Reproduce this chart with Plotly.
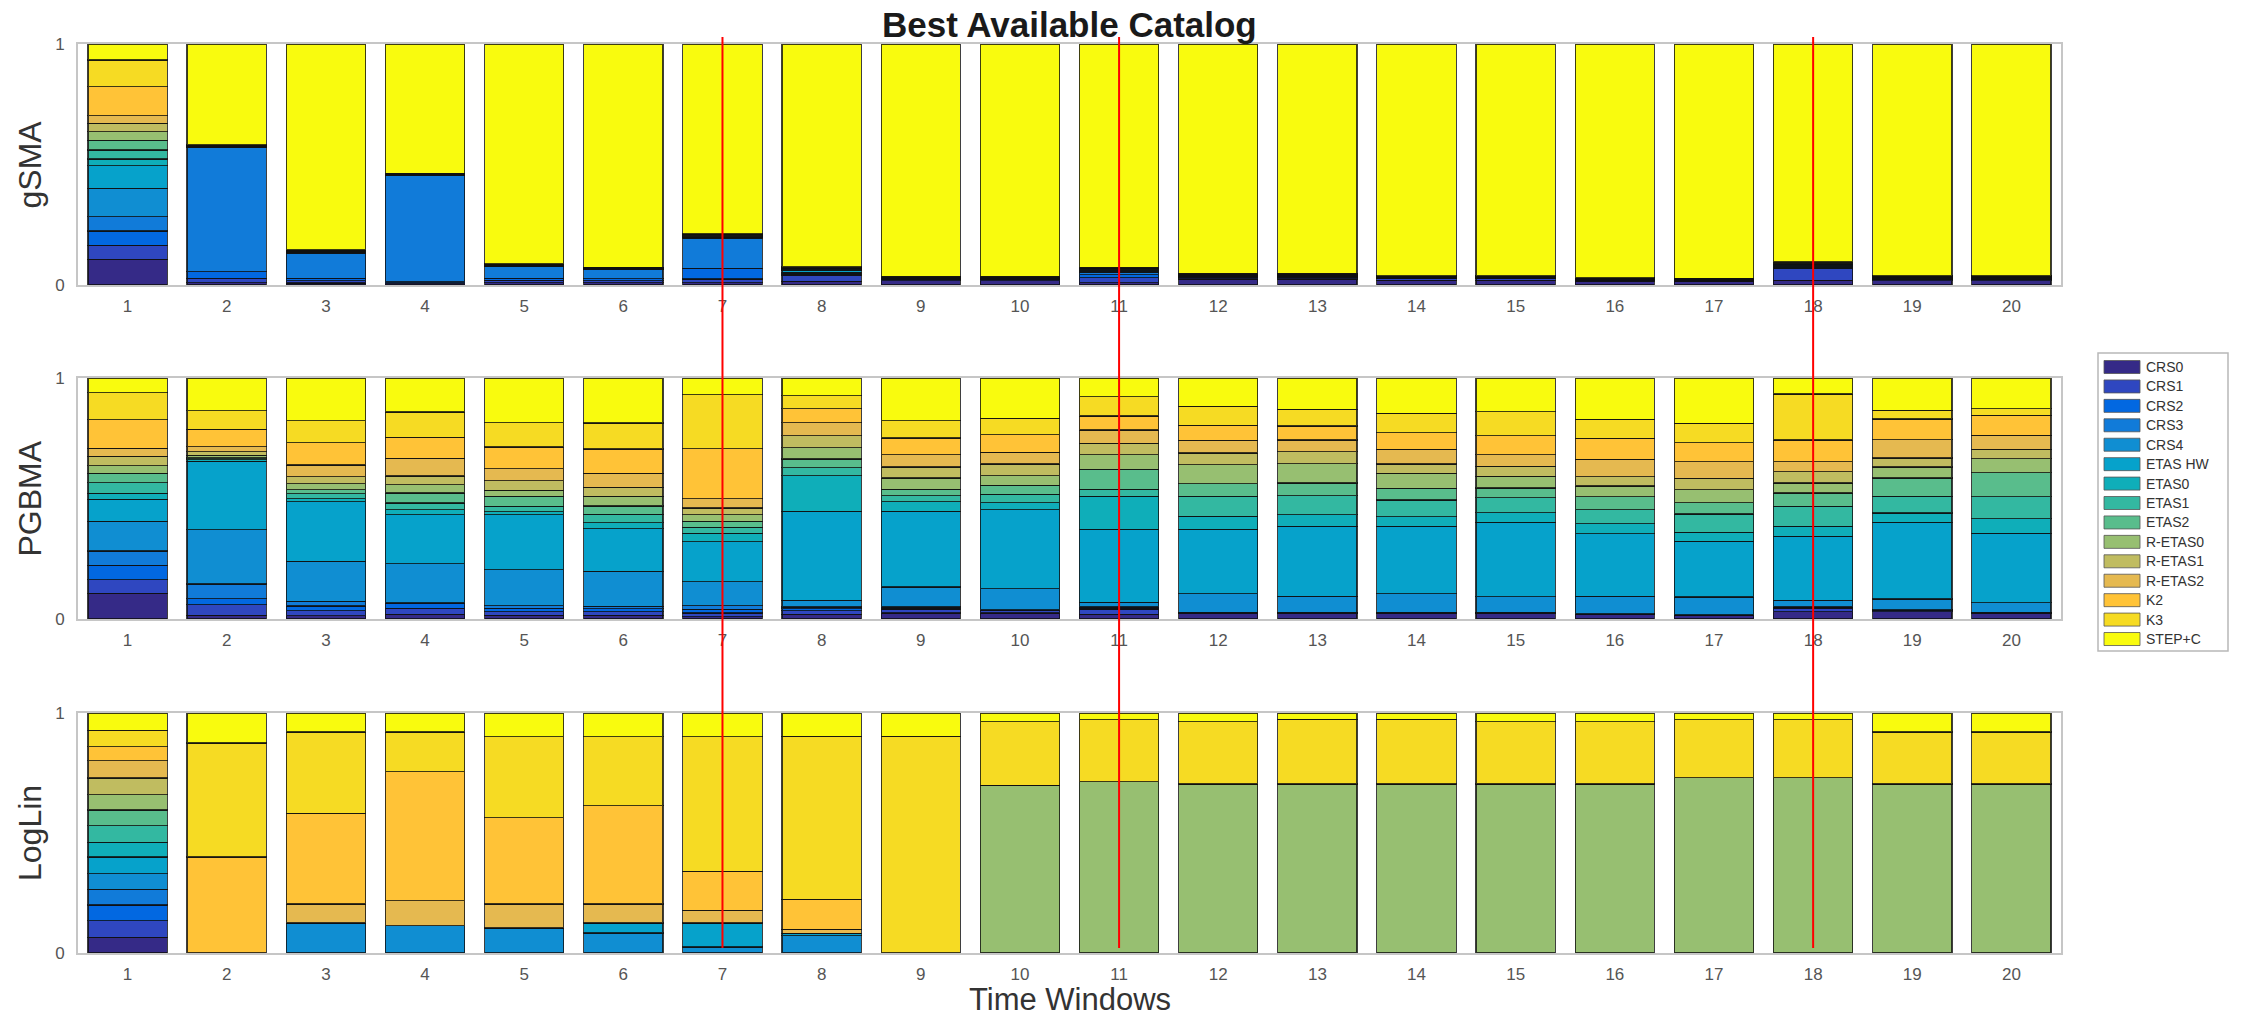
import plotly.graph_objects as go

# Forecast models, stacked bottom to top in every bar
models = ["CRS0", "CRS1", "CRS2", "CRS3", "CRS4", "ETAS HW", "ETAS0", "ETAS1", "ETAS2",
          "R-ETAS0", "R-ETAS1", "R-ETAS2", "K2", "K3", "STEP+C"]
windows = list(range(1, 21))
panel_names = ["gSMA", "PGBMA", "LogLin"]
marked_windows = [7, 11, 18]

# Model weights per time window (one row per window, columns follow `models`)
gsma = [
    [0.107, 0.058, 0.059, 0.059, 0.118, 0.094, 0.028, 0.037, 0.041, 0.035, 0.035, 0.032, 0.120, 0.111, 0.066],
    [0.010, 0.018, 0.027, 0.515, 0.002, 0.001, 0.001, 0.001, 0.001, 0.001, 0.001, 0.001, 0.001, 0.001, 0.419],
    [0.008, 0.010, 0.010, 0.104, 0.0013, 0.0013, 0.0013, 0.0013, 0.0013, 0.0013, 0.0013, 0.0013, 0.0013, 0.0013, 0.8537],
    [0.006, 0.004, 0.004, 0.440, 0.001, 0.001, 0.001, 0.001, 0.001, 0.001, 0.001, 0.001, 0.001, 0.001, 0.535],
    [0.010, 0.010, 0.008, 0.048, 0.0012, 0.0012, 0.0012, 0.0012, 0.0012, 0.0012, 0.0012, 0.0012, 0.0012, 0.0012, 0.9108],
    [0.010, 0.008, 0.008, 0.038, 0.001, 0.001, 0.001, 0.001, 0.001, 0.001, 0.001, 0.001, 0.001, 0.001, 0.925],
    [0.010, 0.015, 0.044, 0.125, 0.0018, 0.0018, 0.0018, 0.0018, 0.0018, 0.0018, 0.0018, 0.0018, 0.0018, 0.0018, 0.7862],
    [0.015, 0.025, 0.004, 0.004, 0.004, 0.008, 0.0018, 0.0018, 0.0018, 0.0018, 0.0018, 0.0018, 0.0018, 0.0018, 0.9238],
    [0.018, 0.006, 0.001, 0.001, 0.001, 0.001, 0.001, 0.001, 0.001, 0.001, 0.001, 0.001, 0.001, 0.001, 0.963],
    [0.018, 0.006, 0.001, 0.001, 0.001, 0.001, 0.001, 0.001, 0.001, 0.001, 0.001, 0.001, 0.001, 0.001, 0.963],
    [0.010, 0.020, 0.012, 0.012, 0.004, 0.0018, 0.0018, 0.0018, 0.0018, 0.0018, 0.0018, 0.0018, 0.0018, 0.0018, 0.9258],
    [0.025, 0.006, 0.0015, 0.0015, 0.0015, 0.0015, 0.0015, 0.0015, 0.0015, 0.0015, 0.0015, 0.0015, 0.0015, 0.0015, 0.9505],
    [0.025, 0.006, 0.0015, 0.0015, 0.0015, 0.0015, 0.0015, 0.0015, 0.0015, 0.0015, 0.0015, 0.0015, 0.0015, 0.0015, 0.9505],
    [0.020, 0.006, 0.001, 0.001, 0.001, 0.001, 0.001, 0.001, 0.001, 0.001, 0.001, 0.001, 0.001, 0.001, 0.961],
    [0.020, 0.006, 0.001, 0.001, 0.001, 0.001, 0.001, 0.001, 0.001, 0.001, 0.001, 0.001, 0.001, 0.001, 0.961],
    [0.015, 0.003, 0.001, 0.001, 0.001, 0.001, 0.001, 0.001, 0.001, 0.001, 0.001, 0.001, 0.001, 0.001, 0.969],
    [0.013, 0.003, 0.001, 0.001, 0.001, 0.001, 0.001, 0.001, 0.001, 0.001, 0.001, 0.001, 0.001, 0.001, 0.971],
    [0.020, 0.050, 0.005, 0.004, 0.0017, 0.0017, 0.0017, 0.0017, 0.0017, 0.0017, 0.0017, 0.0017, 0.0017, 0.0017, 0.9023],
    [0.018, 0.006, 0.0012, 0.0012, 0.0012, 0.0012, 0.0012, 0.0012, 0.0012, 0.0012, 0.0012, 0.0012, 0.0012, 0.0012, 0.9604],
    [0.018, 0.006, 0.0012, 0.0012, 0.0012, 0.0012, 0.0012, 0.0012, 0.0012, 0.0012, 0.0012, 0.0012, 0.0012, 0.0012, 0.9604],
]

pgbma = [
    [0.107, 0.056, 0.060, 0.059, 0.123, 0.091, 0.025, 0.045, 0.039, 0.031, 0.039, 0.033, 0.119, 0.112, 0.061],
    [0.015, 0.045, 0.025, 0.060, 0.225, 0.285, 0.006, 0.004, 0.005, 0.010, 0.015, 0.020, 0.072, 0.078, 0.135],
    [0.014, 0.020, 0.020, 0.020, 0.165, 0.247, 0.014, 0.020, 0.017, 0.025, 0.028, 0.049, 0.093, 0.091, 0.177],
    [0.020, 0.025, 0.020, 0.002, 0.163, 0.202, 0.021, 0.028, 0.042, 0.035, 0.035, 0.073, 0.088, 0.105, 0.141],
    [0.015, 0.015, 0.015, 0.010, 0.149, 0.228, 0.014, 0.021, 0.042, 0.025, 0.040, 0.050, 0.090, 0.100, 0.186],
    [0.015, 0.015, 0.013, 0.010, 0.145, 0.176, 0.025, 0.035, 0.035, 0.040, 0.037, 0.059, 0.100, 0.108, 0.187],
    [0.010, 0.015, 0.015, 0.015, 0.100, 0.166, 0.035, 0.024, 0.025, 0.028, 0.028, 0.039, 0.207, 0.224, 0.069],
    [0.020, 0.015, 0.008, 0.007, 0.028, 0.369, 0.148, 0.032, 0.037, 0.046, 0.051, 0.053, 0.058, 0.055, 0.073],
    [0.025, 0.015, 0.005, 0.005, 0.083, 0.314, 0.040, 0.025, 0.027, 0.046, 0.046, 0.051, 0.069, 0.072, 0.177],
    [0.025, 0.010, 0.002, 0.002, 0.086, 0.329, 0.028, 0.035, 0.037, 0.041, 0.048, 0.048, 0.073, 0.069, 0.167],
    [0.020, 0.020, 0.005, 0.005, 0.019, 0.304, 0.136, 0.030, 0.083, 0.059, 0.048, 0.055, 0.058, 0.080, 0.078],
    [0.022, 0.002, 0.002, 0.002, 0.077, 0.268, 0.053, 0.083, 0.053, 0.079, 0.048, 0.053, 0.061, 0.080, 0.117],
    [0.022, 0.002, 0.002, 0.002, 0.066, 0.290, 0.048, 0.079, 0.053, 0.080, 0.051, 0.048, 0.058, 0.069, 0.130],
    [0.022, 0.002, 0.002, 0.002, 0.077, 0.279, 0.041, 0.069, 0.048, 0.062, 0.039, 0.061, 0.069, 0.080, 0.147],
    [0.022, 0.002, 0.002, 0.002, 0.064, 0.310, 0.039, 0.062, 0.041, 0.048, 0.041, 0.048, 0.079, 0.101, 0.139],
    [0.018, 0.002, 0.001, 0.001, 0.072, 0.260, 0.041, 0.058, 0.055, 0.044, 0.039, 0.072, 0.087, 0.079, 0.171],
    [0.014, 0.002, 0.001, 0.001, 0.073, 0.231, 0.037, 0.077, 0.047, 0.053, 0.048, 0.069, 0.079, 0.080, 0.188],
    [0.030, 0.015, 0.003, 0.002, 0.028, 0.266, 0.041, 0.083, 0.055, 0.041, 0.048, 0.041, 0.090, 0.191, 0.066],
    [0.030, 0.005, 0.002, 0.002, 0.044, 0.318, 0.039, 0.069, 0.076, 0.046, 0.037, 0.076, 0.086, 0.036, 0.134],
    [0.022, 0.002, 0.002, 0.002, 0.039, 0.288, 0.061, 0.091, 0.100, 0.058, 0.039, 0.058, 0.083, 0.028, 0.127],
]

loglin = [
    [0.066, 0.069, 0.065, 0.065, 0.066, 0.069, 0.062, 0.069, 0.065, 0.064, 0.069, 0.072, 0.058, 0.069, 0.072],
    [0, 0, 0, 0, 0, 0, 0, 0, 0, 0, 0, 0, 0.400, 0.475, 0.125],
    [0, 0, 0, 0, 0.125, 0, 0, 0, 0, 0, 0, 0.079, 0.378, 0.339, 0.079],
    [0, 0, 0, 0, 0.114, 0, 0, 0, 0, 0, 0, 0.104, 0.537, 0.166, 0.079],
    [0, 0, 0, 0, 0.104, 0, 0, 0, 0, 0, 0, 0.100, 0.360, 0.337, 0.099],
    [0, 0, 0, 0, 0.083, 0.042, 0, 0, 0, 0, 0, 0.079, 0.409, 0.288, 0.099],
    [0, 0, 0, 0, 0.025, 0.100, 0, 0, 0, 0, 0, 0.053, 0.162, 0.561, 0.099],
    [0, 0, 0, 0, 0.072, 0.010, 0, 0, 0, 0, 0, 0.017, 0.125, 0.679, 0.097],
    [0, 0, 0, 0, 0, 0, 0, 0, 0, 0, 0, 0, 0, 0.903, 0.097],
    [0, 0, 0, 0, 0, 0, 0, 0, 0, 0.699, 0, 0, 0, 0.264, 0.037],
    [0, 0, 0, 0, 0, 0, 0, 0, 0, 0.713, 0, 0, 0, 0.259, 0.028],
    [0, 0, 0, 0, 0, 0, 0, 0, 0, 0.704, 0, 0, 0, 0.259, 0.037],
    [0, 0, 0, 0, 0, 0, 0, 0, 0, 0.704, 0, 0, 0, 0.269, 0.027],
    [0, 0, 0, 0, 0, 0, 0, 0, 0, 0.704, 0, 0, 0, 0.269, 0.027],
    [0, 0, 0, 0, 0, 0, 0, 0, 0, 0.704, 0, 0, 0, 0.259, 0.037],
    [0, 0, 0, 0, 0, 0, 0, 0, 0, 0.704, 0, 0, 0, 0.259, 0.037],
    [0, 0, 0, 0, 0, 0, 0, 0, 0, 0.731, 0, 0, 0, 0.241, 0.028],
    [0, 0, 0, 0, 0, 0, 0, 0, 0, 0.731, 0, 0, 0, 0.241, 0.028],
    [0, 0, 0, 0, 0, 0, 0, 0, 0, 0.704, 0, 0, 0, 0.217, 0.079],
    [0, 0, 0, 0, 0, 0, 0, 0, 0, 0.704, 0, 0, 0, 0.217, 0.079],
]

# 15-step parula palette, one colour per model
palette = ["#352A87", "#2F47C0", "#0268E1", "#117BD9", "#108ED2", "#06A2CB", "#0FAEB9",
           "#33B8A1", "#59BD8C", "#97BF71", "#C0BC60", "#E5B950", "#FFC337", "#F6DB23", "#F9FB0E"]

W, H = 2249, 1018
FONT = "Liberation Sans, Arial, Helvetica, sans-serif"


def fx(px):
    return px / W


def fy(px):
    return 1 - px / H


# vertical pixel extent of each panel (top, bottom)
panel_px = [(44, 285), (378, 619), (713, 953)]
x_left, x_right = 78, 2061

fig = go.Figure()

for p, rows in enumerate([gsma, pgbma, loglin]):
    suffix = "" if p == 0 else str(p + 1)
    for m, name in enumerate(models):
        fig.add_trace(go.Bar(
            x=windows,
            y=[row[m] for row in rows],
            name=name,
            width=0.8,
            marker=dict(color=palette[m], line=dict(color="rgba(15,15,15,0.8)", width=1.2)),
            xaxis="x" + suffix,
            yaxis="y" + suffix,
            showlegend=False,
        ))

axis_line = dict(showline=True, mirror=True, linecolor="#c6c6c6", linewidth=2,
                 showgrid=False, zeroline=False, ticks="", automargin=False)
layout = dict(
    width=W, height=H,
    margin=dict(l=0, r=0, t=0, b=0, pad=0, autoexpand=False),
    paper_bgcolor="white", plot_bgcolor="white",
    barmode="stack", bargap=0.2,
    font=dict(family=FONT, color="#444"),
)
for p, (top, bottom) in enumerate(panel_px):
    suffix = "" if p == 0 else str(p + 1)
    layout["xaxis" + suffix] = dict(
        axis_line, domain=[fx(x_left), fx(x_right)], range=[0.5, 20.5],
        anchor="y" + suffix, tickvals=windows, ticktext=[str(w) for w in windows],
        tickfont=dict(size=17, color="#555"), ticklabelstandoff=5,
    )
    layout["yaxis" + suffix] = dict(
        axis_line, domain=[fy(bottom), fy(top)], range=[0, 1],
        anchor="x" + suffix, tickvals=[0, 1], ticktext=["0", "1"],
        tickfont=dict(size=17, color="#555"), ticklabelstandoff=8,
    )
fig.update_layout(**layout)

centre_x = fx((x_left + x_right) / 2)
annotations = [
    dict(text="<b>Best Available Catalog</b>", x=centre_x, y=fy(24),
         font=dict(size=35, color="#1a1a1a", family=FONT)),
    dict(text="Time Windows", x=centre_x, y=0, yanchor="bottom", borderpad=0,
         font=dict(size=31, color="#333", family=FONT)),
]
for p, (top, bottom) in enumerate(panel_px):
    annotations.append(dict(text=panel_names[p], x=fx(30), y=fy((top + bottom) / 2),
                            textangle=-90, font=dict(size=32, color="#333", family=FONT)))

# legend: boxed column of swatches with model names
shapes = []
leg_left, leg_right, leg_top, leg_bottom = 2098, 2228, 353, 651
shapes.append(dict(type="rect", xref="paper", yref="paper",
                   x0=fx(leg_left), x1=fx(leg_right), y0=fy(leg_bottom), y1=fy(leg_top),
                   line=dict(color="#b8b8b8", width=1.5), fillcolor="white", layer="above"))
for m, name in enumerate(models):
    cy = 367 + m * 19.43
    shapes.append(dict(type="rect", xref="paper", yref="paper",
                       x0=fx(2104), x1=fx(2140), y0=fy(cy + 6.5), y1=fy(cy - 6.5),
                       fillcolor=palette[m], line=dict(color="#555", width=0.8), layer="above"))
    annotations.append(dict(text=name, x=fx(2144), y=fy(cy), xanchor="left",
                            font=dict(size=14, color="#333", family=FONT)))

for w in marked_windows:
    shapes.append(dict(type="line", xref="x", yref="paper", x0=w, x1=w,
                       y0=fy(948), y1=fy(37), line=dict(color="red", width=2), layer="above"))

for a in annotations:
    a.setdefault("xref", "paper")
    a.setdefault("yref", "paper")
    a.setdefault("xanchor", "center")
    a.setdefault("yanchor", "middle")
    a.setdefault("showarrow", False)
fig.update_layout(annotations=annotations, shapes=shapes)

fig.write_html("out.html")
